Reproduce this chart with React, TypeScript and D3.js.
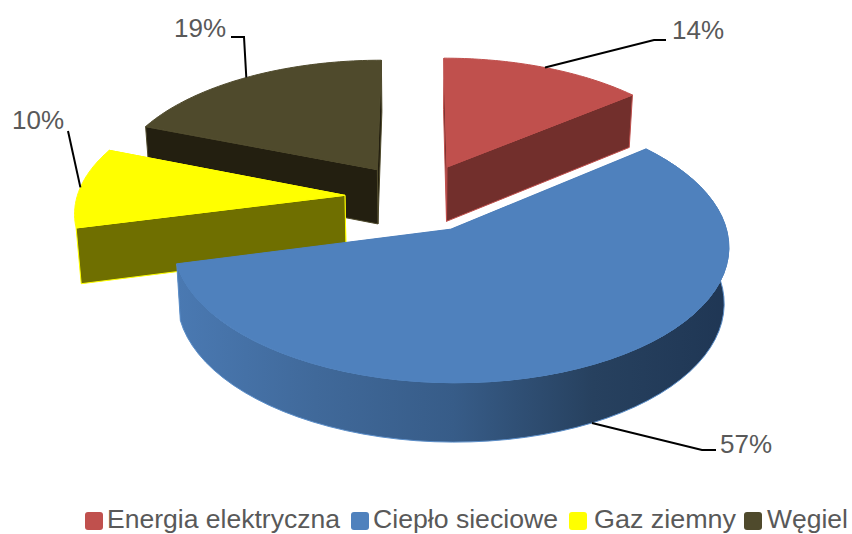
import React from "react";
import * as d3 from "d3";

const categories = ["Energia elektryczna", "Ciepło sieciowe", "Gaz ziemny", "Węgiel"];
const values = [14, 57, 10, 19];
const topColors = ["#c0504d", "#4f81bd", "#ffff00", "#4f4a2c"];
const sideColors = ["#722f2c", "url(#blueWall)", "#6f6f00", "#231f10"];
const edgeColors = ["#c0504d", "#5b8ec9", "#ffff00", "#4f4a2c"];

// projection of the tilted, exploded pie
const W = 852, H = 534;
const CX = 417, CY = 197.5, A = 268, B = 128, K = 0.115, EXPLODE = 0.27, DEPTH = 55, TAPER = 0.015;

type P = [number, number];
const project = (X: number, Y: number, drop = 0): P => {
  const p = 1 / (1 + K * Y);
  const shrink = 1 - (TAPER * drop) / DEPTH;
  return [CX + A * X * p * shrink, CY - B * Y * p + drop * Math.sqrt(p)];
};

const pieGen = d3.pie<number>().sort(null).startAngle(0).endAngle(2 * Math.PI);
const arcs = pieGen(values);

const line = d3.line<P>();

function sliceGeom(a: d3.PieArcDatum<number>) {
  const mid = (a.startAngle + a.endAngle) / 2;
  const ox = EXPLODE * Math.sin(mid), oy = EXPLODE * Math.cos(mid);
  const at = (t: number, r = 1, drop = 0) => project(ox + r * Math.sin(t), oy + r * Math.cos(t), drop);
  const ts = d3.range(0, 61).map((i) => a.startAngle + ((a.endAngle - a.startAngle) * i) / 60);
  const top: P[] = [at(0, 0), ...ts.map((t) => at(t))];
  const wall: P[] = [...ts.map((t) => at(t)), ...ts.slice().reverse().map((t) => at(t, 1, DEPTH))];
  const face = (t: number): P[] => [at(0, 0), at(t), at(t, 1, DEPTH), at(0, 0, DEPTH)];
  // far radial face first, near one after it
  const faces = [a.startAngle, a.endAngle]
    .sort((p, q) => Math.cos(q) - Math.cos(p))
    .map(face);
  return { mid, at, top, wall, faces, frontWall: Math.cos(mid) < 0 };
}

const geoms = arcs.map(sliceGeom);
const drawOrder = [3, 0, 2, 1];

const labelFont = "'Liberation Sans', Arial, sans-serif";
// label placement: elbow, leader end, text anchor
const leaders: { drop: number; elbow: P; end: P; text: P }[] = [
  { drop: 0, elbow: [654, 40], end: [666, 40], text: [672, 39] },
  { drop: 55, elbow: [702, 450], end: [716, 450], text: [720, 453] },
  { drop: 0, elbow: [68, 131], end: [68, 131], text: [12, 129] },
  { drop: 0, elbow: [244, 37], end: [231, 37], text: [174, 37] },
];

const legendX = [85, 351, 569, 744];
const legendTextX = [107, 373, 594, 767];
const legendTextW = [233, 185, 142, 81];

export default function App() {
  return (
    <svg width={W} height={H} style={{ position: "absolute", left: 0, top: 0, background: "#fff" }}>
      <defs>
        <linearGradient id="blueWall" gradientUnits="userSpaceOnUse" x1={177} x2={731} y1={0} y2={0}>
          <stop offset="0" stopColor="#4a79b2" />
          <stop offset="0.25" stopColor="#40699a" />
          <stop offset="0.5" stopColor="#375c88" />
          <stop offset="0.75" stopColor="#27415f" />
          <stop offset="1" stopColor="#1f3654" />
        </linearGradient>
      </defs>
      {drawOrder.map((i) => {
        const g = geoms[i];
        return (
          <g key={i}>
            {g.faces.map((f, j) => (
              <path key={j} d={line(f)! + "Z"} fill={sideColors[i]} stroke={i === 1 ? "none" : edgeColors[i]} strokeWidth={1} strokeLinejoin="round" />
            ))}
            {g.frontWall && (
              <path d={line(g.wall)! + "Z"} fill={sideColors[i]} stroke={edgeColors[i]} strokeWidth={1} strokeLinejoin="round" />
            )}
            <path d={line(g.top)! + "Z"} fill={topColors[i]} stroke={topColors[i]} strokeWidth={1} strokeLinejoin="round" />
          </g>
        );
      })}
      {arcs.map((a, i) => {
        const g = geoms[i];
        const l = leaders[i];
        const s = g.at(g.mid, 1, l.drop);
        return (
          <g key={i}>
            <path d={line([s, l.elbow, l.end])!} fill="none" stroke="#000" strokeWidth={2} />
            <text x={l.text[0]} y={l.text[1]} fontFamily={labelFont} fontSize={26} fill="#595959">
              {`${values[i]}%`}
            </text>
          </g>
        );
      })}
      {categories.map((c, i) => (
        <g key={c}>
          <rect x={legendX[i]} y={512} width={18} height={18} rx={3} fill={topColors[i]} />
          <text x={legendTextX[i]} y={528} fontFamily={labelFont} fontSize={25} fill="#595959"
            textLength={legendTextW[i]} lengthAdjust="spacingAndGlyphs">
            {c}
          </text>
        </g>
      ))}
    </svg>
  );
}
